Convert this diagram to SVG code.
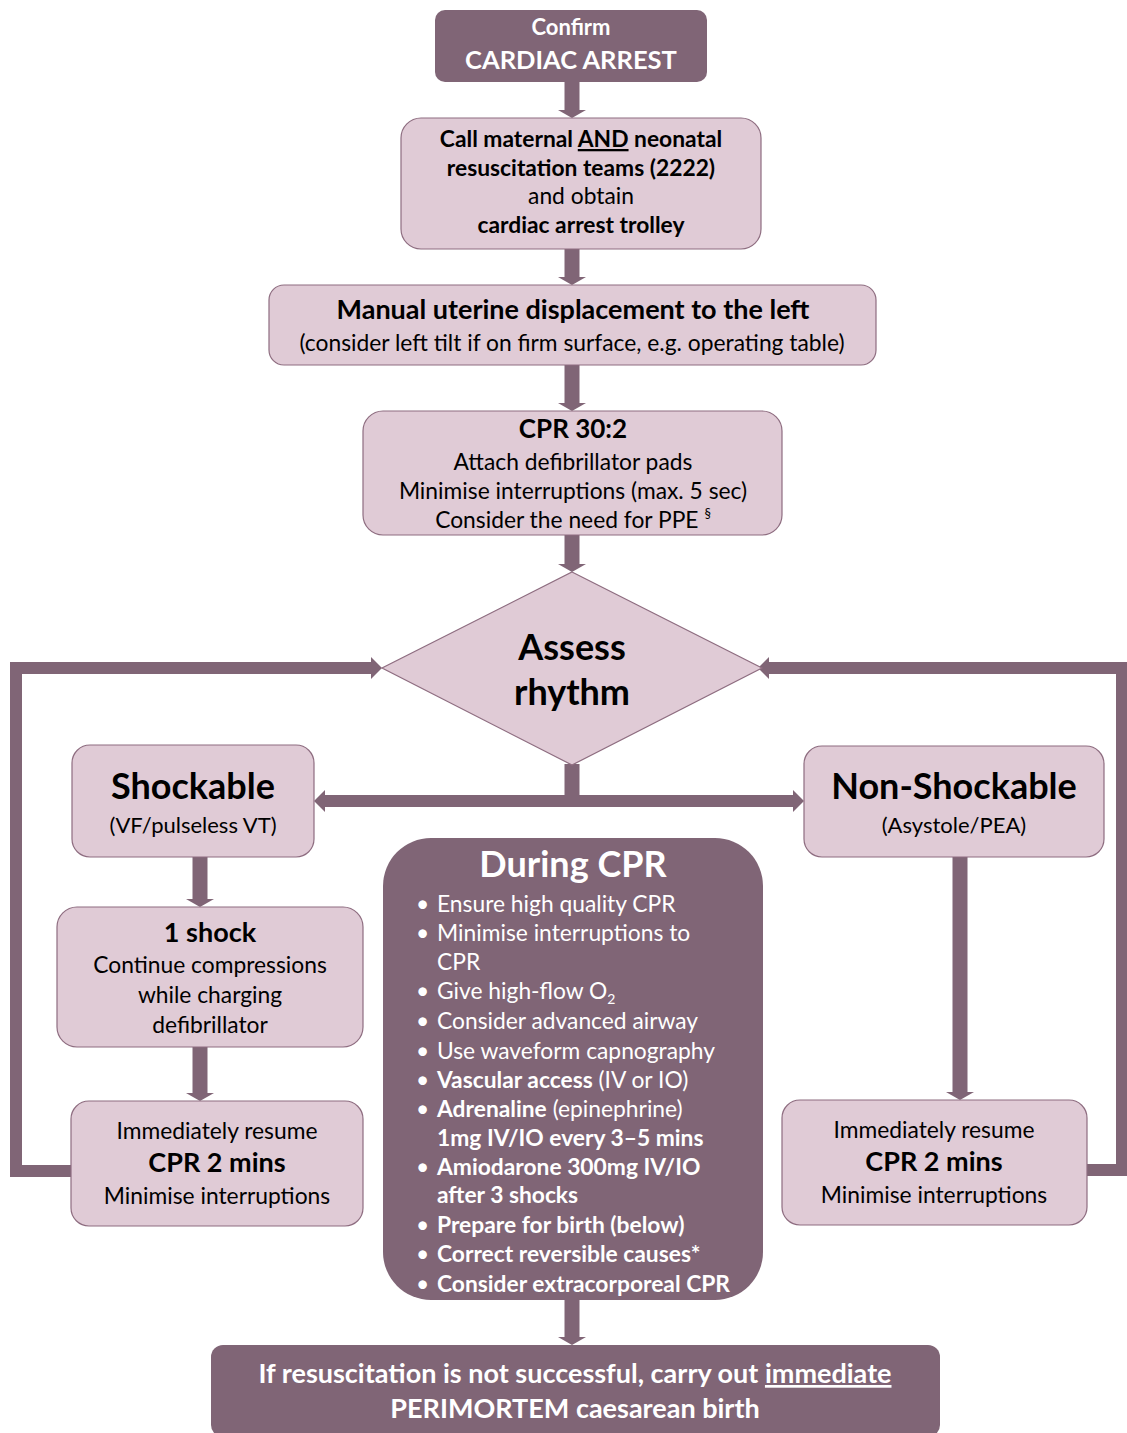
<svg xmlns="http://www.w3.org/2000/svg" width="1127" height="1433" viewBox="0 0 1127 1433">
<style>
text{font-family:Lato,"Open Sans","Liberation Sans",sans-serif;fill:#000;text-anchor:middle}
.w{fill:#fff}
.b{font-weight:bold}
.box{fill:#e0cbd6;stroke:#8e6d80;stroke-width:1.2}
.dark{fill:#806576}
.t20{font-size:22.8px}
.sub{font-size:22px}
.lead{font-size:27px;font-weight:bold}
.big{font-size:36px;font-weight:bold}
.ar{fill:none;stroke:#806576;stroke-width:15}
.lp{fill:none;stroke:#806576;stroke-width:12}
.bl text{text-anchor:start;font-size:22.8px;fill:#fff}
</style>
<defs>
<marker id="hv" markerUnits="userSpaceOnUse" markerWidth="10" markerHeight="30" viewBox="0 -15 10 30" refX="0" refY="0" orient="auto" overflow="visible">
<path d="M0,-14 L8,0 L0,14 z" fill="#806576"/>
</marker>
<marker id="hl" markerUnits="userSpaceOnUse" markerWidth="12" markerHeight="24" viewBox="0 -12 12 24" refX="0" refY="0" orient="auto" overflow="visible">
<path d="M0,-11 L11,0 L0,11 z" fill="#806576"/>
</marker>
</defs>

<g id="connectors">
<line class="ar" x1="572" y1="82" x2="572" y2="110" marker-end="url(#hv)"/>
<line class="ar" x1="572" y1="249" x2="572" y2="277" marker-end="url(#hv)"/>
<line class="ar" x1="572" y1="365" x2="572" y2="403" marker-end="url(#hv)"/>
<line class="ar" x1="572" y1="535" x2="572" y2="564" marker-end="url(#hv)"/>
<line class="ar" x1="572" y1="764" x2="572" y2="801"/>
<line class="lp" x1="578" y1="801" x2="325" y2="801" marker-end="url(#hl)"/>
<line class="lp" x1="566" y1="801" x2="793" y2="801" marker-end="url(#hl)"/>
<line class="ar" x1="200" y1="857" x2="200" y2="899" marker-end="url(#hv)"/>
<line class="ar" x1="200" y1="1047" x2="200" y2="1093" marker-end="url(#hv)"/>
<line class="ar" x1="960" y1="857" x2="960" y2="1092" marker-end="url(#hv)"/>
<line class="ar" x1="572" y1="1300" x2="572" y2="1337" marker-end="url(#hv)"/>
<path class="lp" d="M72,1171 H16 V668 H371" marker-end="url(#hl)"/>
<path class="lp" d="M1087,1170 H1122 V668 H769" marker-end="url(#hl)"/>
</g>

<g id="confirm">
<rect class="dark" x="435" y="10" width="272" height="72" rx="10"/>
<text class="w b" x="571" y="35" font-size="22">Confirm</text>
<text class="w b" x="571" y="69" font-size="25.5">CARDIAC ARREST</text>
</g>

<g id="call-teams">
<rect class="box" x="401" y="118" width="360" height="131" rx="20"/>
<text class="b t20" x="581" y="147">Call maternal <tspan text-decoration="underline">AND</tspan> neonatal</text>
<text class="b t20" x="581" y="176">resuscitation teams (2222)</text>
<text class="t20" x="581" y="204">and obtain</text>
<text class="b t20" x="581" y="233">cardiac arrest trolley</text>
</g>

<g id="uterine">
<rect class="box" x="269" y="285" width="607" height="80" rx="15"/>
<text class="lead" x="573" y="319" font-size="27.6">Manual uterine displacement to the left</text>
<text class="t20" x="572" y="351">(consider left tilt if on firm surface, e.g. operating table)</text>
</g>

<g id="cpr302">
<rect class="box" x="363" y="411" width="419" height="124" rx="20"/>
<text class="b" x="573" y="438" font-size="26">CPR 30:2</text>
<text class="t20" x="573" y="470">Attach defibrillator pads</text>
<text class="t20" x="573" y="499">Minimise interruptions (max. 5 sec)</text>
<text class="t20" x="573" y="528">Consider the need for PPE <tspan font-size="13" dy="-10">§</tspan></text>
</g>

<g id="assess">
<polygon points="572,572 762,668 572,765 382,668" fill="#e0cbd6" stroke="#8e6d80" stroke-width="1.2"/>
<text class="big" x="572" y="660" font-size="36.5">Assess</text>
<text class="big" x="572" y="705" font-size="36.5">rhythm</text>
</g>

<g id="shockable">
<rect class="box" x="72" y="745" width="242" height="112" rx="18"/>
<text class="big" x="193" y="799">Shockable</text>
<text class="sub" x="193" y="833">(VF/pulseless VT)</text>
</g>

<g id="nonshockable">
<rect class="box" x="804" y="746" width="300" height="111" rx="18"/>
<text class="big" x="954" y="799">Non-Shockable</text>
<text class="sub" x="954" y="833">(Asystole/PEA)</text>
</g>

<g id="shock">
<rect class="box" x="57" y="907" width="306" height="140" rx="20"/>
<text class="lead" x="210" y="942" font-size="26.7">1 shock</text>
<text class="t20" x="210" y="973">Continue compressions</text>
<text class="t20" x="210" y="1003">while charging</text>
<text class="t20" x="210" y="1033">defibrillator</text>
</g>

<g id="resume-left">
<rect class="box" x="71" y="1101" width="292" height="125" rx="18"/>
<text class="t20" x="217" y="1139">Immediately resume</text>
<text class="lead" x="217" y="1172" font-size="26">CPR 2 mins</text>
<text class="t20" x="217" y="1204">Minimise interruptions</text>
</g>

<g id="resume-right">
<rect class="box" x="782" y="1100" width="305" height="125" rx="18"/>
<text class="t20" x="934" y="1138">Immediately resume</text>
<text class="lead" x="934" y="1171" font-size="26">CPR 2 mins</text>
<text class="t20" x="934" y="1203">Minimise interruptions</text>
</g>

<g id="during-cpr">
<rect class="dark" x="383" y="838" width="380" height="462" rx="48"/>
<text class="w big" x="573" y="877" font-size="34.7">During CPR</text>
<g class="bl">
<text x="416" y="912">•</text><text x="437" y="912">Ensure high quality CPR</text>
<text x="416" y="941">•</text><text x="437" y="941">Minimise interruptions to</text>
<text x="437" y="970">CPR</text>
<text x="416" y="999">•</text><text x="437" y="999">Give high-flow O<tspan font-size="14" dy="5">2</tspan></text>
<text x="416" y="1029">•</text><text x="437" y="1029">Consider advanced airway</text>
<text x="416" y="1059">•</text><text x="437" y="1059">Use waveform capnography</text>
<text x="416" y="1088">•</text><text x="437" y="1088"><tspan font-weight="bold">Vascular access</tspan> (IV or IO)</text>
<text x="416" y="1117">•</text><text x="437" y="1117"><tspan font-weight="bold">Adrenaline</tspan> (epinephrine)</text>
<text x="437" y="1146" font-weight="bold">1mg IV/IO every 3–5 mins</text>
<text x="416" y="1175">•</text><text x="437" y="1175" font-weight="bold">Amiodarone 300mg IV/IO</text>
<text x="437" y="1203" font-weight="bold">after 3 shocks</text>
<text x="416" y="1233">•</text><text x="437" y="1233" font-weight="bold">Prepare for birth (below)</text>
<text x="416" y="1262">•</text><text x="437" y="1262" font-weight="bold">Correct reversible causes*</text>
<text x="416" y="1292">•</text><text x="437" y="1292" font-weight="bold">Consider extracorporeal CPR</text>
</g>
</g>

<g id="perimortem">
<rect class="dark" x="211" y="1345" width="729" height="92" rx="12"/>
<text class="w lead" x="575" y="1383" font-size="27.4">If resuscitation is not successful, carry out <tspan text-decoration="underline">immediate</tspan></text>
<text class="w lead" x="575" y="1418" font-size="27.4">PERIMORTEM caesarean birth</text>
</g>
</svg>
